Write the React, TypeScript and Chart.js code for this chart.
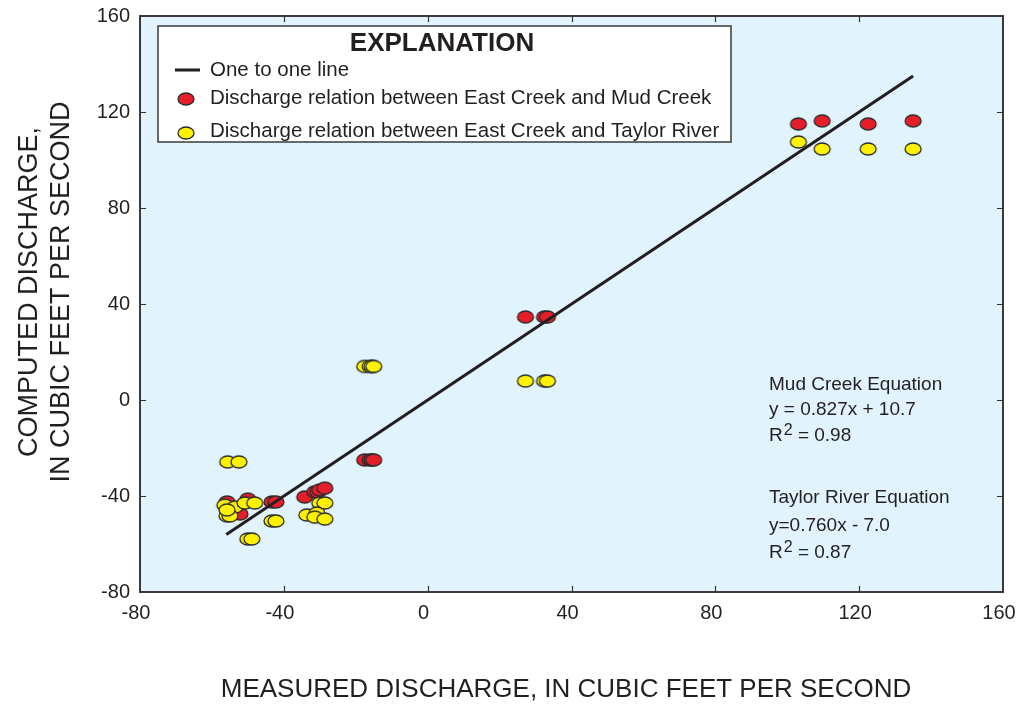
import React, { useEffect, useRef } from "react";
import { Chart, registerables } from "chart.js";

Chart.register(...registerables);

// ---- Data ----
const xTickValues = [-80, -40, 0, 40, 80, 120, 160];
const yTickValues = [-80, -40, 0, 40, 80, 120, 160];

const mudX = [-55.8, -50.0, -52.2, -43.3, -42.2, -34.2, -31.4, -30.6, -30.0, -28.6, -17.5, -16.0, -15.5, -15.0, 27.2, 32.5, 33.3, 103.1, 109.7, 122.5, 135.0];
const mudY = [-42.5, -41.3, -47.5, -42.5, -42.5, -40.4, -38.3, -38.3, -37.5, -36.7, -25.0, -25.0, -25.0, -25.0, 34.6, 34.6, 34.6, 115.0, 116.3, 115.0, 116.3];

const taylorX = [-55.6, -52.5, -56.4, -53.6, -50.8, -48.1, -55.8, -55.0, -55.8, -43.3, -42.2, -50.0, -48.9, -30.0, -28.6, -33.6, -30.8, -31.4, -28.6, -17.5, -16.0, -15.5, -15.0, 27.2, 32.5, 33.3, 103.1, 109.7, 122.5, 135.0];
const taylorY = [-25.8, -25.8, -43.8, -44.6, -42.9, -42.9, -48.3, -48.3, -45.8, -50.4, -50.4, -57.9, -57.9, -42.9, -42.9, -47.9, -47.1, -48.8, -49.6, 14.0, 14.0, 14.0, 14.0, 7.9, 7.9, 7.9, 107.5, 104.6, 104.6, 104.6];

const lineX = [-56, 135];
const lineY = [-56, 135];

const legendTitle = "EXPLANATION";
const legendLine = "One to one line";
const legendMud = "Discharge relation between East Creek and Mud Creek";
const legendTaylor = "Discharge relation between East Creek and Taylor River";
const xTitle = "MEASURED DISCHARGE, IN CUBIC FEET PER SECOND";
const yTitleLines = ["COMPUTED DISCHARGE,", "IN CUBIC FEET PER SECOND"];

const RED = "#E61E2A";
const YELLOW = "#FFF200";
const INK = "#231F20";
const BG = "#E1F3FD";
const FONT = "'Liberation Sans', Arial, Helvetica, sans-serif";

function ellipseMarker(fill: string): HTMLCanvasElement {
  const c = document.createElement("canvas");
  c.width = 20;
  c.height = 16;
  const ctx = c.getContext("2d")!;
  ctx.beginPath();
  ctx.ellipse(10, 8, 8.0, 6.0, 0, 0, Math.PI * 2);
  ctx.fillStyle = fill;
  ctx.fill();
  ctx.lineWidth = 1.3;
  ctx.strokeStyle = "#2b2b2b";
  ctx.stroke();
  return c;
}

export default function App() {
  const ref = useRef<HTMLCanvasElement>(null);

  useEffect(() => {
    document.body.style.margin = "0";
    const redMarker = ellipseMarker(RED);
    const yellowMarker = ellipseMarker(YELLOW);

    const decor = {
      id: "decor",
      beforeDraw(chart: any) {
        const { ctx, chartArea: a } = chart;
        ctx.save();
        ctx.fillStyle = "#ffffff";
        ctx.fillRect(0, 0, chart.width, chart.height);
        ctx.fillStyle = BG;
        ctx.fillRect(a.left, a.top, a.right - a.left, a.bottom - a.top);
        ctx.restore();
      },
      afterDraw(chart: any) {
        const { ctx, chartArea: a, scales } = chart;
        const xs = scales.x;
        const ys = scales.y;
        ctx.save();
        // inward ticks
        ctx.strokeStyle = "#333";
        ctx.lineWidth = 1.2;
        const tl = 6;
        xTickValues.slice(1, -1).forEach((v) => {
          const px = Math.round(xs.getPixelForValue(v)) + 0.5;
          ctx.beginPath();
          ctx.moveTo(px, a.bottom);
          ctx.lineTo(px, a.bottom - tl);
          ctx.moveTo(px, a.top);
          ctx.lineTo(px, a.top + tl);
          ctx.stroke();
        });
        yTickValues.slice(1, -1).forEach((v) => {
          const py = Math.round(ys.getPixelForValue(v)) + 0.5;
          ctx.beginPath();
          ctx.moveTo(a.left, py);
          ctx.lineTo(a.left + tl, py);
          ctx.moveTo(a.right, py);
          ctx.lineTo(a.right - tl, py);
          ctx.stroke();
        });
        // border
        ctx.strokeStyle = "#3a3a3a";
        ctx.lineWidth = 2;
        ctx.strokeRect(a.left, a.top, a.right - a.left, a.bottom - a.top);

        // legend box
        const bx = 158, by = 26, bw = 573, bh = 116;
        ctx.fillStyle = "#ffffff";
        ctx.fillRect(bx, by, bw, bh);
        ctx.strokeStyle = "#3a3a3a";
        ctx.lineWidth = 1.5;
        ctx.strokeRect(bx, by, bw, bh);
        ctx.fillStyle = INK;
        ctx.textBaseline = "middle";
        ctx.textAlign = "center";
        ctx.font = `bold 26px ${FONT}`;
        ctx.fillText(legendTitle, 442, 44);
        ctx.textAlign = "left";
        ctx.font = `20.5px ${FONT}`;
        ctx.fillText(legendLine, 210, 70);
        ctx.fillText(legendMud, 210, 98);
        ctx.fillText(legendTaylor, 210, 131);
        ctx.strokeStyle = INK;
        ctx.lineWidth = 3;
        ctx.beginPath();
        ctx.moveTo(175, 70);
        ctx.lineTo(200, 70);
        ctx.stroke();
        ctx.drawImage(redMarker, 186 - 10, 99 - 8);
        ctx.drawImage(yellowMarker, 186 - 10, 133 - 8);

        // equations
        const ex = 769;
        const ef = 19;
        ctx.font = `${ef}px ${FONT}`;
        ctx.fillStyle = INK;
        ctx.fillText("Mud Creek Equation", ex, 385);
        ctx.fillText("y = 0.827x + 10.7", ex, 410);
        const drawR2 = (y: number, val: string) => {
          ctx.font = `${ef}px ${FONT}`;
          ctx.fillText("R", ex, y);
          const w = ctx.measureText("R").width;
          ctx.font = `16px ${FONT}`;
          ctx.fillText("2", ex + w + 1, y - 5);
          const w2 = ctx.measureText("2").width;
          ctx.font = `${ef}px ${FONT}`;
          ctx.fillText(" = " + val, ex + w + 1 + w2, y);
        };
        drawR2(436, "0.98");
        ctx.fillText("Taylor River Equation", ex, 498);
        ctx.fillText("y=0.760x - 7.0", ex, 526);
        drawR2(553, "0.87");

        // axis titles
        ctx.textAlign = "center";
        ctx.fillStyle = INK;
        ctx.font = `26px ${FONT}`;
        ctx.fillText(xTitle, 566, 690);
        ctx.font = `27px ${FONT}`;
        const cy = 292;
        [30, 62].forEach((cx, i) => {
          ctx.save();
          ctx.translate(cx, cy);
          ctx.rotate(-Math.PI / 2);
          ctx.fillText(yTitleLines[i], 0, 0);
          ctx.restore();
        });
        ctx.restore();
      },
    };

    const toPts = (xs: number[], ys: number[]) => xs.map((x, i) => ({ x, y: ys[i] }));

    const zeroPad = (s: any) => {
      s.paddingLeft = 0;
      s.paddingRight = 0;
      s.paddingTop = 0;
      s.paddingBottom = 0;
    };

    const chart = new Chart(ref.current!, {
      type: "scatter",
      data: {
        datasets: [
          {
            label: legendLine,
            data: toPts(lineX, lineY),
            showLine: true,
            borderColor: INK,
            borderWidth: 3,
            pointRadius: 0,
            fill: false,
          } as any,
          {
            label: legendTaylor,
            data: toPts(taylorX, taylorY),
            pointStyle: yellowMarker as any,
            pointRadius: 8,
          },
          {
            label: legendMud,
            data: toPts(mudX, mudY),
            pointStyle: redMarker as any,
            pointRadius: 8,
          },
        ],
      },
      options: {
        animation: false,
        responsive: false,
        devicePixelRatio: 1,
        layout: { padding: { top: 16, right: 15, left: 0, bottom: 0 } },
        plugins: { legend: { display: false }, tooltip: { enabled: false } },
        scales: {
          x: {
            type: "linear",
            min: -80,
            max: 160,
            afterBuildTicks: (s: any) => {
              s.ticks = xTickValues.map((v) => ({ value: v }));
            },
            afterFit: (s: any) => {
              s.height = 112;
              zeroPad(s);
            },
            grid: { display: false, drawTicks: false },
            border: { display: false },
            ticks: {
              padding: 9,
              labelOffset: -4,
              color: INK,
              font: { family: FONT, size: 20 },
              maxRotation: 0,
            },
          },
          y: {
            type: "linear",
            min: -80,
            max: 160,
            afterBuildTicks: (s: any) => {
              s.ticks = yTickValues.map((v) => ({ value: v }));
            },
            afterFit: (s: any) => {
              s.width = 140;
              zeroPad(s);
            },
            grid: { display: false, drawTicks: false },
            border: { display: false },
            ticks: {
              padding: 10,
              color: INK,
              font: { family: FONT, size: 20 },
            },
          },
        },
      },
      plugins: [decor],
    });
    return () => chart.destroy();
  }, []);

  return (
    <div style={{ position: "absolute", left: 0, top: 0, width: 1018, height: 704 }}>
      <canvas ref={ref} width={1018} height={704} style={{ width: 1018, height: 704 }} />
    </div>
  );
}
